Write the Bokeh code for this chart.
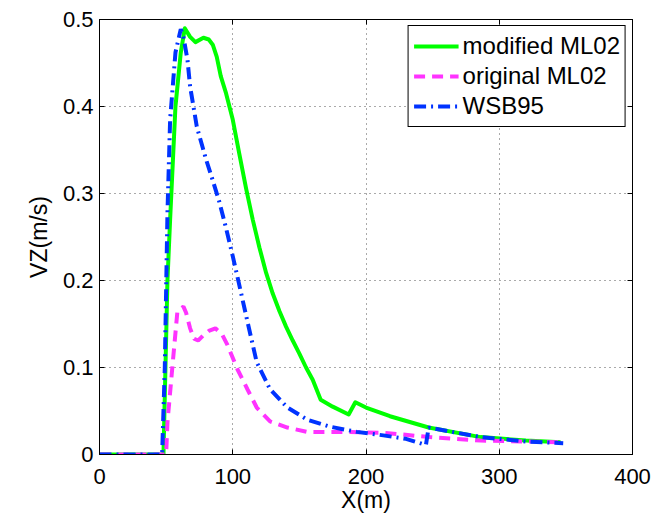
from bokeh.plotting import figure
from bokeh.models import Range1d, FixedTicker, LinearAxis, Legend, LegendItem
from bokeh.embed import file_html
from bokeh.resources import INLINE

# ---- data ----
mod_x = [0, 48, 49.5, 51, 53, 57, 61, 64, 68, 72, 78, 82, 85, 88, 91, 95, 100, 105, 110, 115, 120, 125, 130, 135, 140, 145, 150, 155, 160, 166, 175, 187, 192, 200, 218, 247, 286, 320, 346]
mod_y = [0, 0, 0.10, 0.20, 0.27, 0.40, 0.462, 0.490, 0.480, 0.474, 0.479, 0.477, 0.471, 0.457, 0.435, 0.415, 0.385, 0.345, 0.306, 0.270, 0.238, 0.209, 0.185, 0.165, 0.147, 0.131, 0.116, 0.100, 0.086, 0.063, 0.055, 0.046, 0.060, 0.054, 0.044, 0.031, 0.020, 0.016, 0.014]

orig_x = [0, 50, 51, 55, 58.5, 63, 65, 68, 71, 74, 78, 82, 87, 92, 96, 103.5, 111, 118, 128, 141, 156, 181, 213, 248, 286, 320, 346]
orig_y = [0, 0, 0.037, 0.106, 0.165, 0.170, 0.163, 0.145, 0.133, 0.131, 0.137, 0.142, 0.145, 0.138, 0.126, 0.098, 0.075, 0.054, 0.038, 0.031, 0.026, 0.026, 0.025, 0.020, 0.016, 0.015, 0.014]

wsb_x = [0, 47, 49, 51, 53, 57, 61, 63, 66, 68, 73, 80, 85, 90, 95, 100, 104, 111, 118, 128, 141, 156, 173, 193, 213, 230, 245, 247, 286, 320, 348]
wsb_y = [0, 0, 0.10, 0.278, 0.385, 0.462, 0.489, 0.480, 0.454, 0.423, 0.377, 0.339, 0.315, 0.290, 0.260, 0.228, 0.201, 0.153, 0.106, 0.075, 0.054, 0.040, 0.032, 0.026, 0.022, 0.018, 0.011, 0.031, 0.020, 0.015, 0.013]

series_names = ["modified ML02", "original ML02", "WSB95"]

x_ticks = [0, 100, 200, 300, 400]
x_tick_labels = ["0", "100", "200", "300", "400"]
y_ticks = [0, 0.1, 0.2, 0.3, 0.4, 0.5]
y_tick_labels = ["0", "0.1", "0.2", "0.3", "0.4", "0.5"]
x_title = "X(m)"
y_title = "VZ(m/s)"

FONT = "Liberation Sans"

p = figure(width=666, height=515, output_backend="svg", toolbar_location=None,
           x_range=Range1d(0, 400), y_range=Range1d(0, 0.5),
           min_border_left=99, min_border_right=34, min_border_top=19, min_border_bottom=60)
p.background_fill_color = "white"
p.border_fill_color = "white"
p.outline_line_color = "black"
p.outline_line_width = 1
p.outline_line_alpha = 1

p.xaxis.ticker = FixedTicker(ticks=x_ticks)
p.yaxis.ticker = FixedTicker(ticks=y_ticks)
p.xaxis.major_label_overrides = {t: l for t, l in zip(x_ticks, x_tick_labels)}
p.yaxis.major_label_overrides = {t: l for t, l in zip(y_ticks, y_tick_labels)}

for ax in (p.xaxis[0], p.yaxis[0]):
    ax.major_tick_in = 5
    ax.major_tick_out = 0
    ax.minor_tick_line_color = None
    ax.axis_line_color = "black"
    ax.major_tick_line_color = "black"
    ax.major_label_text_font = FONT
    ax.major_label_text_color = "black"
    ax.axis_label_text_font = FONT
    ax.axis_label_text_font_style = "normal"
    ax.axis_label_text_color = "black"

p.xaxis.major_label_text_font_size = "22px"
p.xaxis.major_label_standoff = 14
p.xaxis.axis_label = x_title
p.xaxis.axis_label_text_font_size = "23px"
p.xaxis.axis_label_standoff = 0

p.yaxis.major_label_text_font_size = "22px"
p.yaxis.axis_label_text_font_size = "23px"
p.yaxis.axis_label = y_title
p.yaxis.major_label_standoff = 6
p.yaxis.axis_label_standoff = 8

# mirrored tick axes (top/right) like MATLAB box, without labels
for side, tick in (("above", x_ticks), ("right", y_ticks)):
    ax = LinearAxis(ticker=FixedTicker(ticks=tick), major_tick_in=5, major_tick_out=0,
                    minor_tick_line_color=None,
                    major_label_overrides={t: "" for t in tick},
                    major_label_text_font_size="1px",
                    major_label_standoff=0, axis_line_color="black")
    p.add_layout(ax, side)

for g in (p.xgrid[0], p.ygrid[0]):
    g.grid_line_color = "#444444"
    g.grid_line_dash = "1 4"
    g.grid_line_width = 1
    g.grid_line_alpha = 0.9

r1 = p.line(mod_x, mod_y, line_color="#00ff00", line_width=4, line_join="round")
r2 = p.line(orig_x, orig_y, line_color="#ff33ff", line_width=4, line_dash="11 7")
r3 = p.line(wsb_x, wsb_y, line_color="#0033ff", line_width=4, line_dash="12 5 2 5")

legend = Legend(items=[LegendItem(label=series_names[0], renderers=[r1]),
                       LegendItem(label=series_names[1], renderers=[r2]),
                       LegendItem(label=series_names[2], renderers=[r3])],
                location="top_right")
legend.margin = 6
legend.padding = 5
legend.spacing = 0
legend.label_height = 30
legend.glyph_height = 20
legend.glyph_width = 45
legend.label_standoff = 4
legend.label_text_font = FONT
legend.label_text_font_size = "24px"
legend.label_text_color = "black"
legend.border_line_color = "black"
legend.border_line_width = 1
legend.border_line_alpha = 1
legend.background_fill_color = "white"
legend.background_fill_alpha = 1
p.add_layout(legend)

open("out.html", "w").write(file_html(p, INLINE))
